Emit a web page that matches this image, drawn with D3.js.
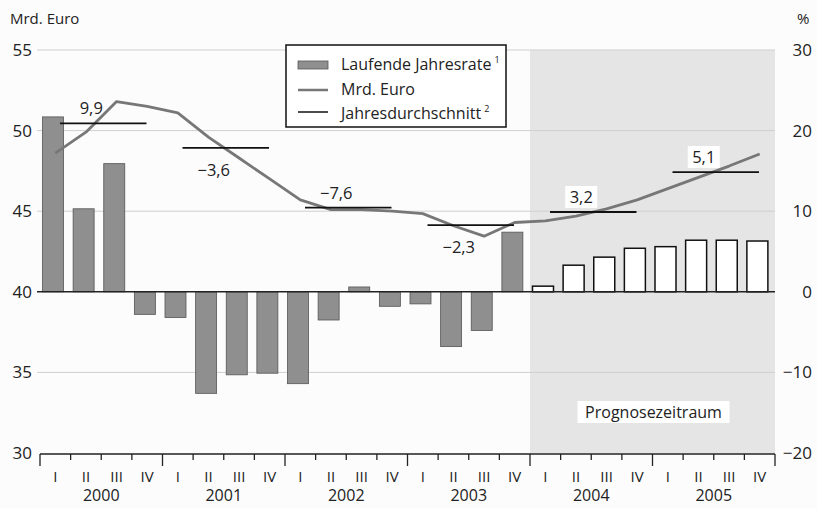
<!DOCTYPE html>
<html>
<head>
<meta charset="utf-8">
<title>Laufende Jahresrate</title>
<script src="https://cdn.jsdelivr.net/npm/d3@7"></script>
<style>
body { margin: 0; background: #fcfcfc; }
text { font-family: "Open Sans", "Noto Sans", sans-serif; fill: #222; }
.grid { stroke: #cfcfcf; stroke-width: 1; }
.bar { fill: #8f8f8f; stroke: #555; stroke-width: 0.8; }
.bar.fc { fill: #fff; stroke: #111; stroke-width: 1.5; }
.mrd { fill: none; stroke: #777; stroke-width: 2.8; stroke-linejoin: round; }
.avg { stroke: #111; stroke-width: 1.8; }
</style>
</head>
<body>
<div id="chart"></div>
<script>
// data
var years = [2000, 2001, 2002, 2003, 2004, 2005];
var quarterNames = ["I", "II", "III", "IV"];
// Laufende Jahresrate, % (right axis)
var rate = [21.7, 10.3, 15.9, -2.8, -3.2, -12.6, -10.3, -10.1,
            -11.4, -3.5, 0.6, -1.8, -1.5, -6.8, -4.8, 7.4,
            0.7, 3.3, 4.3, 5.4, 5.6, 6.4, 6.4, 6.3];
// Mrd. Euro (left axis)
var mrd = [48.6, 49.9, 51.8, 51.5, 51.1, 49.6, 48.3, 47.0,
           45.7, 45.1, 45.1, 45.0, 44.85, 44.1, 43.45, 44.3,
           44.4, 44.7, 45.15, 45.7, 46.4, 47.1, 47.8, 48.55];
// Jahresdurchschnitt in Mrd. Euro and its change in %
var yearAvg = [50.45, 48.93, 45.22, 44.13, 44.95, 47.43];
var yearChange = ["9,9", "\u22123,6", "\u22127,6", "\u22122,3", "3,2", "5,1"];
var forecastFrom = 2004;
var leftTicks = [30, 35, 40, 45, 50, 55];
var rightTicks = [-20, -10, 0, 10, 20, 30];

var W = 817, H = 508;
var x0 = 40, x1 = 775, yTop = 50, yBot = 453;

var svg = d3.select("#chart").append("svg")
	.attr("width", W).attr("height", H);

var quarters = d3.range(years.length * 4);
var x = d3.scaleBand().domain(quarters).range([x0, x1]);
var xYear = d3.scaleBand().domain(years).range([x0, x1]);
var yL = d3.scaleLinear().domain([30, 55]).range([yBot, yTop]);
var yR = d3.scaleLinear().domain([-20, 30]).range([yBot, yTop]);

// forecast shading
var fx = xYear(forecastFrom);
svg.append("rect")
	.attr("x", fx).attr("y", yTop)
	.attr("width", x1 - fx).attr("height", yBot - yTop)
	.attr("fill", "#e5e5e5");

// grid lines
svg.selectAll(".grid").data(leftTicks.filter(function(d) { return d != 30 && d != 40; }))
	.enter().append("line")
	.attr("class", "grid")
	.attr("x1", x0 - 3).attr("x2", x1)
	.attr("y1", function(d) { return yL(d); })
	.attr("y2", function(d) { return yL(d); });

// bars
svg.selectAll(".bar").data(rate).enter().append("rect")
	.attr("class", function(d, i) { return i >= (forecastFrom - years[0]) * 4 ? "bar fc" : "bar"; })
	.attr("x", function(d, i) { return x(i) + 2.5; })
	.attr("width", 21)
	.attr("y", function(d) { return yR(Math.max(0, d)); })
	.attr("height", function(d) { return Math.abs(yR(d) - yR(0)); });

// zero line
svg.append("line")
	.attr("x1", x0 - 3).attr("x2", x1)
	.attr("y1", yR(0)).attr("y2", yR(0))
	.attr("stroke", "#222").attr("stroke-width", 1.5);

// Mrd. Euro line
var line = d3.line()
	.x(function(d, i) { return x(i) + x.bandwidth() / 2; })
	.y(function(d) { return yL(d); });
svg.append("path").datum(mrd).attr("class", "mrd").attr("d", line);

// yearly averages
var avgG = svg.append("g");
avgG.selectAll("line").data(years).enter().append("line")
	.attr("class", "avg")
	.attr("x1", function(d) { return xYear(d) + 20; })
	.attr("x2", function(d) { return xYear(d) + xYear.bandwidth() - 16; })
	.attr("y1", function(d, i) { return yL(yearAvg[i]); })
	.attr("y2", function(d, i) { return yL(yearAvg[i]); });

// change labels: above or below the average line
var below = [false, true, false, true, false, false];
var labG = svg.append("g");
years.forEach(function(yr, i) {
	var cx = xYear(yr) + xYear.bandwidth() / 2 - 10;
	var cy = yL(yearAvg[i]) + (below[i] ? 28 : -9);
	if (yr >= forecastFrom) {
		labG.append("rect")
			.attr("x", cx - 16).attr("y", cy - 17)
			.attr("width", 32).attr("height", 22)
			.attr("fill", "#fff");
	}
	labG.append("text")
		.attr("x", cx).attr("y", cy)
		.attr("text-anchor", "middle")
		.style("font-size", "16.5px")
		.text(yearChange[i]);
});

// Prognosezeitraum label
var px = fx + (x1 - fx) / 2;
svg.append("rect")
	.attr("x", px - 75).attr("y", 401)
	.attr("width", 152).attr("height", 22)
	.attr("fill", "#fff");
svg.append("text")
	.attr("x", px + 1).attr("y", 418)
	.attr("text-anchor", "middle")
	.style("font-size", "16px")
	.text("Prognosezeitraum");

// x axis
svg.append("line")
	.attr("x1", x0).attr("x2", x1)
	.attr("y1", yBot + 1).attr("y2", yBot + 1)
	.attr("stroke", "#222").attr("stroke-width", 1.3);
var tickG = svg.append("g");
d3.range(quarters.length + 1).forEach(function(k) {
	var xx = k < quarters.length ? x(k) : x1;
	tickG.append("line")
		.attr("x1", xx).attr("x2", xx)
		.attr("y1", yBot + 1).attr("y2", yBot + (k % 4 == 0 ? 13 : 7))
		.attr("stroke", "#222").attr("stroke-width", 1.3);
});
svg.selectAll(".ql").data(quarters).enter().append("text")
	.attr("class", "ql")
	.attr("x", function(d) { return x(d) + x.bandwidth() / 2; })
	.attr("y", 482)
	.attr("text-anchor", "middle")
	.style("font-size", "15px")
	.text(function(d) { return quarterNames[d % 4]; });
svg.selectAll(".yl").data(years).enter().append("text")
	.attr("class", "yl")
	.attr("x", function(d) { return xYear(d) + xYear.bandwidth() / 2; })
	.attr("y", 501)
	.attr("text-anchor", "middle")
	.style("font-size", "16px")
	.text(function(d) { return d; });

// left axis labels
svg.selectAll(".ll").data(leftTicks).enter().append("text")
	.attr("class", "ll")
	.attr("x", 32).attr("y", function(d) { return yL(d) + 6; })
	.attr("text-anchor", "end")
	.style("font-size", "17px")
	.text(function(d) { return d; });
svg.append("text").attr("x", 10).attr("y", 24)
	.style("font-size", "15px").text("Mrd. Euro");

// right axis labels
svg.selectAll(".rl").data(rightTicks).enter().append("text")
	.attr("class", "rl")
	.attr("x", 812).attr("y", function(d) { return yR(d) + 6; })
	.attr("text-anchor", "end")
	.style("font-size", "17px")
	.text(function(d) { return d < 0 ? "\u2212" + Math.abs(d) : d; });
svg.append("text").attr("x", 797).attr("y", 24)
	.style("font-size", "15px").text("%");

// legend
var lg = svg.append("g").attr("transform", "translate(286,45)");
lg.append("rect").attr("width", 220).attr("height", 82)
	.attr("fill", "#fff").attr("stroke", "#111").attr("stroke-width", 1.5);
lg.append("rect").attr("x", 12).attr("y", 16).attr("width", 30).attr("height", 8)
	.attr("fill", "#8f8f8f").attr("stroke", "#555").attr("stroke-width", 0.8);
lg.append("line").attr("x1", 12).attr("x2", 42).attr("y1", 45).attr("y2", 45)
	.attr("stroke", "#777").attr("stroke-width", 2.5);
lg.append("line").attr("x1", 12).attr("x2", 42).attr("y1", 67).attr("y2", 67)
	.attr("stroke", "#111").attr("stroke-width", 1.5);
var legText = [["Laufende Jahresrate", "1"], ["Mrd. Euro", ""], ["Jahresdurchschnitt", "2"]];
legText.forEach(function(t, i) {
	var tx = lg.append("text").attr("x", 55).attr("y", 25 + i * 24.5)
		.style("font-size", "16px");
	tx.append("tspan").text(t[0]);
	if (t[1]) tx.append("tspan").attr("dx", 3).attr("dy", -7)
		.style("font-size", "9px").text(t[1]);
});
</script>
</body>
</html>
